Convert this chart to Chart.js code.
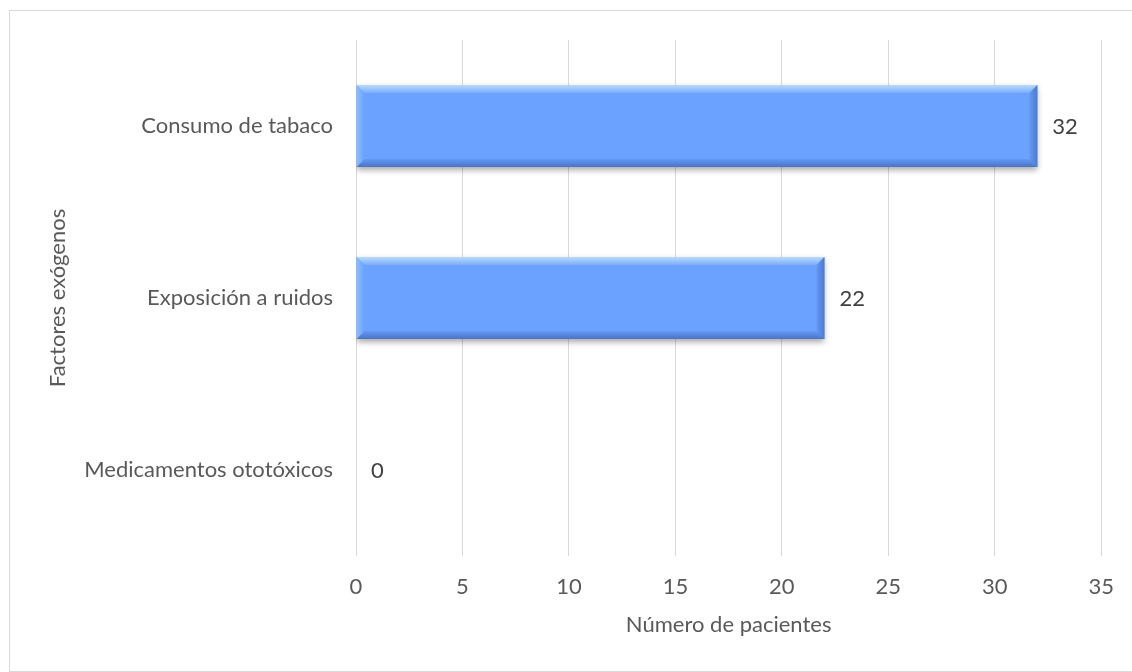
<!DOCTYPE html>
<html>
<head>
<meta charset="utf-8">
<script src="https://cdn.jsdelivr.net/npm/chart.js@4/dist/chart.umd.min.js"></script>
<style>
  html, body { margin: 0; padding: 0; background: #fff; }
  #wrap { position: relative; width: 1132px; height: 672px; overflow: hidden; }
  #frame { position: absolute; left: 9px; top: 10px; width: 1140px; height: 662px; border: 1px solid #d9d9d9; box-sizing: border-box; }
  canvas { position: absolute; left: 0; top: 0; }
</style>
</head>
<body>
<div id="wrap">
  <div id="frame"></div>
  <canvas id="chart" width="1132" height="672"></canvas>
</div>
<script>
const categories = ["Consumo de tabaco", "Exposición a ruidos", "Medicamentos ototóxicos"];
const pacientes = [32, 22, 0];
const xTicks = [0, 5, 10, 15, 20, 25, 30, 35];

const textColor = "#595959";
const fontFamily = "Lato, 'Open Sans', sans-serif";
const fontSize = 22;

// shadow under the bars
const shadowPlugin = {
  id: "barShadow",
  beforeDatasetDraw(chart) {
    const ctx = chart.ctx;
    ctx.save();
    ctx.shadowColor = "rgba(0,0,0,0.35)";
    ctx.shadowBlur = 6;
    ctx.shadowOffsetY = 3;
  },
  afterDatasetDraw(chart) {
    chart.ctx.restore();
  },
};

// bevel edges + value labels
const bevelPlugin = {
  id: "bevel",
  afterDatasetsDraw(chart) {
    const ctx = chart.ctx;
    const meta = chart.getDatasetMeta(0);
    meta.data.forEach((bar, i) => {
      const p = bar.getProps(["x", "y", "base", "height"], true);
      const x0 = Math.min(p.base, p.x), x1 = Math.max(p.base, p.x);
      const y0 = p.y - p.height / 2, y1 = p.y + p.height / 2;
      if (x1 - x0 > 2) {
        const b = Math.min(8, (x1 - x0) / 2);
        const poly = (pts, fill) => {
          ctx.beginPath();
          ctx.moveTo(pts[0][0], pts[0][1]);
          pts.slice(1).forEach(q => ctx.lineTo(q[0], q[1]));
          ctx.closePath();
          ctx.fillStyle = fill;
          ctx.fill();
        };
        let g = ctx.createLinearGradient(0, y0, 0, y0 + b + 2);
        g.addColorStop(0, "#b9dbff");
        g.addColorStop(1, "#6ca2ff");
        poly([[x0, y0], [x1, y0], [x1 - b, y0 + b], [x0 + b, y0 + b]], g);
        g = ctx.createLinearGradient(0, y1 - b, 0, y1);
        g.addColorStop(0, "#6398f4");
        g.addColorStop(1, "#4a74c6");
        poly([[x0, y1], [x1, y1], [x1 - b, y1 - b], [x0 + b, y1 - b]], g);
        g = ctx.createLinearGradient(x0, 0, x0 + b, 0);
        g.addColorStop(0, "#8dbdff");
        g.addColorStop(1, "#6ca2ff");
        poly([[x0, y0], [x0 + b, y0 + b], [x0 + b, y1 - b], [x0, y1]], g);
        g = ctx.createLinearGradient(x1 - b, 0, x1, 0);
        g.addColorStop(0, "#6398f4");
        g.addColorStop(1, "#4c7bd0");
        poly([[x1, y0], [x1 - b, y0 + b], [x1 - b, y1 - b], [x1, y1]], g);
      }
      ctx.save();
      ctx.fillStyle = "#404040";
      ctx.font = fontSize + "px " + fontFamily;
      ctx.textAlign = "left";
      ctx.textBaseline = "middle";
      ctx.fillText(String(pacientes[i]), x1 + 15, p.y + 1);
      ctx.restore();
    });
  },
};

new Chart(document.getElementById("chart"), {
  type: "bar",
  data: {
    labels: categories,
    datasets: [
      {
        data: pacientes,
        backgroundColor: "#6ca2ff",
        borderWidth: 0,
        categoryPercentage: 1,
        barPercentage: 0.477,
      },
    ],
  },
  options: {
    indexAxis: "y",
    responsive: false,
    animation: false,
    events: [],
    layout: { padding: { top: 40, right: 27, left: 40, bottom: 0 } },
    plugins: { legend: { display: false }, tooltip: { enabled: false } },
    scales: {
      x: {
        min: 0,
        max: 35,
        afterBuildTicks: (scale) => {
          scale.ticks = xTicks.map(v => ({ value: v }));
        },
        afterFit: (scale) => { scale.height = 116; },
        grid: { color: "#d9d9d9", lineWidth: 1, drawTicks: false },
        border: { display: false },
        ticks: { color: textColor, padding: 18, font: { family: fontFamily, size: fontSize } },
        title: {
          display: true,
          text: "Número de pacientes",
          color: textColor,
          font: { family: fontFamily, size: fontSize },
          padding: { top: 0, bottom: 34 },
        },
      },
      y: {
        afterFit: (scale) => { scale.width = 316; },
        grid: { display: false, drawTicks: false },
        border: { display: false },
        ticks: { color: textColor, padding: 23, font: { family: fontFamily, size: fontSize } },
        title: {
          display: true,
          text: "Factores exógenos",
          color: textColor,
          font: { family: fontFamily, size: fontSize },
          padding: { top: 5, bottom: 0 },
        },
      },
    },
  },
  plugins: [shadowPlugin, bevelPlugin],
});
</script>
</body>
</html>
